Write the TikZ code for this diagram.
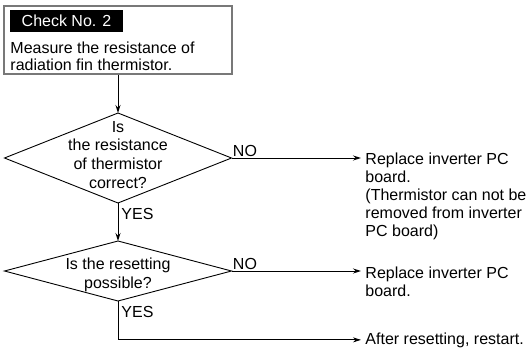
\documentclass[tikz,border=0pt]{standalone}
\usepackage{fontspec}
\setmainfont{Liberation Sans}
\usetikzlibrary{arrows.meta,positioning,calc,shapes.geometric}
\definecolor{ink}{RGB}{0,0,0}
\definecolor{frame}{RGB}{120,120,120}
\tikzset{
  every picture/.style={color=ink, line width=0.9pt},
  txt/.style={font=\fontsize{16pt}{18pt}\selectfont, inner sep=0pt, align=left},
  checkbox/.style={draw=frame, line width=1.5pt, minimum width=228pt, minimum height=68pt, inner sep=0pt},
  tag/.style={txt, fill=black, text=white, minimum width=110pt, minimum height=22pt, inner xsep=12pt, align=left},
  ask/.style={diamond, draw=ink, inner sep=0pt, outer sep=0pt, minimum width=227pt},
  asktext/.style={txt, align=center, font=\fontsize{16pt}{18.6pt}\selectfont},
  result/.style={txt, inner xsep=4pt},
  yn/.style={font=\fontsize{16pt}{18pt}\selectfont, inner sep=1pt},
  flow/.style={-{Stealth[length=8pt,width=5pt]}},
}
\begin{document}
\begin{tikzpicture}[x=1pt, y=-1pt]
  \useasboundingbox (0,0) rectangle (529,348);
  % check box with its black tag
  \node[checkbox] (chk) at (118,40) {};
  \node[tag, below right=4pt and 6pt of chk.north west] (tagno) {Check No. 2};
  \node[txt, font=\fontsize{16pt}{17pt}\selectfont, anchor=base west] (meas) at (10,70) {Measure the resistance of\\radiation fin thermistor.};
  % the two questions
  \node[ask, minimum height=90pt] (q1) at (118,158) {};
  \node[asktext, anchor=base] (q1t) at (118,188) {Is\\the resistance\\of thermistor\\correct?};
  \node[ask, minimum height=60pt] (q2) at (118,271) {};
  \node[asktext, anchor=base] (q2t) at (118,288) {Is the resetting\\possible?};
  % what to do (base = last line)
  \node[result, anchor=base west] (r1) at (361,236) {Replace inverter PC\\board.\\(Thermistor can not be\\removed from inverter\\PC board)};
  \node[result, anchor=base west] (r2) at (361,296) {Replace inverter PC\\board.};
  \node[result, anchor=base west] (r3) at (361,344) {After resetting, restart.};
  % connectors
  \draw[flow] (chk.south) -- (q1.north);
  \draw[flow] (q1.south) -- (q2.north);
  \draw[flow] (q1.east) -- (q1.east -| r1.west);
  \draw[flow] (q2.east) -- (q2.east -| r2.west);
  \draw[flow] (q2.south) |- (r3.west);
  \node[yn, anchor=base west] at ($(q1.east)+(0,-2)$) {NO};
  \node[yn, anchor=base west] at ($(q2.east)+(0,-2)$) {NO};
  \node[yn, anchor=base west] at ($(q1.south)+(2,16)$) {YES};
  \node[yn, anchor=base west] at ($(q2.south)+(2,16)$) {YES};
\end{tikzpicture}
\end{document}
